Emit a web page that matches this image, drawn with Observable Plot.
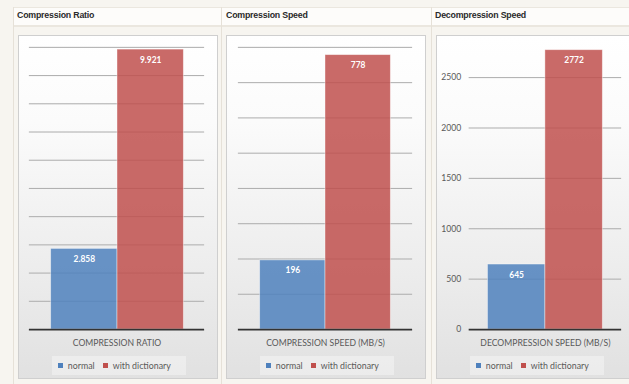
<!DOCTYPE html>
<html>
<head>
<meta charset="utf-8">
<script src="https://cdn.jsdelivr.net/npm/d3@7"></script>
<script src="https://cdn.jsdelivr.net/npm/@observablehq/plot@0.6"></script>
<style>
  html, body { margin: 0; padding: 0; }
  body { width: 629px; height: 384px; overflow: hidden; background: #f7f5f0; position: relative; font-family: Lato, "Liberation Sans", sans-serif; }
  .hdrband { position: absolute; left: 13px; top: 7px; width: 640px; height: 17px; background: #fdfcfa; border-top: 1px solid #ebe7df; border-bottom: 2px solid #ebe7df; }
  .sep { position: absolute; top: 7px; width: 1px; height: 384px; background: #e6e1d8; }
  .title { position: absolute; top: 10px; line-height: 12px; font: bold 8.8px "Liberation Sans", Arial, sans-serif; color: #2a2a2a; white-space: nowrap; letter-spacing: -0.2px; }
  .box { position: absolute; top: 35px; width: 200px; height: 344px; box-sizing: border-box; border: 1px solid #cfcfcf;
         background: linear-gradient(to bottom, #ffffff 0%, #fbfbfb 25%, #ececec 70%, #e1e1e1 100%); }
  .box .chart { position: absolute; left: -1px; top: -1px; }
  .leg { position: absolute; top: 320px; left: 0; width: 200px; display: flex; justify-content: center; }
  .leg > div { background: rgba(255,255,255,0.35); padding: 4px 6px; min-height: 0 !important; margin: 0 !important; }
</style>
</head>
<body>
<div class="hdrband"></div>
<div class="sep" style="left:13px"></div>
<div class="sep" style="left:221px"></div>
<div class="sep" style="left:431px"></div>
<script>
// ---- data ----
const titles = ["Compression Ratio", "Compression Speed", "Decompression Speed"];
const categories = ["COMPRESSION RATIO", "COMPRESSION SPEED (MB/S)", "DECOMPRESSION SPEED (MB/S)"];
const series = ["normal", "with dictionary"];
const normalValues = [2.858, 196, 645];
const dictionaryValues = [9.921, 778, 2772];
const normalLabels = ["2.858", "196", "645"];
const dictionaryLabels = ["9.921", "778", "2772"];
const ratioTicks = [0, 1, 2, 3, 4, 5, 6, 7, 8, 9, 10];
const compTicks = [0, 100, 200, 300, 400, 500, 600, 700, 800];
const decompTicks = [0, 500, 1000, 1500, 2000, 2500];
const tickSets = [ratioTicks, compTicks, decompTicks];
const yMax = [10, 800, 2800];
const colors = ["#4F81BD", "#C0504D"];

// ---- layout ----
const boxLeft = [18, 226, 436];
const titleLeft = [17, 226, 435];
const mLeft = [11, 12, 33];
const mRight = [12, 12, 13];
const showY = [false, false, true];

categories.forEach((cat, i) => {
  const t = document.createElement("div");
  t.className = "title";
  t.style.left = titleLeft[i] + "px";
  t.textContent = titles[i];
  document.body.appendChild(t);

  const box = document.createElement("div");
  box.className = "box";
  box.style.left = boxLeft[i] + "px";
  document.body.appendChild(box);

  const data = [
    {category: cat, series: series[0], value: normalValues[i], label: normalLabels[i]},
    {category: cat, series: series[1], value: dictionaryValues[i], label: dictionaryLabels[i]}
  ];
  const ticks = tickSets[i];

  const chart = Plot.plot({
    width: 200,
    height: 317,
    marginTop: 12,
    marginBottom: 20,
    marginLeft: mLeft[i],
    marginRight: mRight[i],
    style: {background: "transparent", fontFamily: "Lato, sans-serif", fontSize: "8.7px", color: "#595959", overflow: "visible"},
    facet: {data, x: "category"},
    fx: {domain: [cat], padding: 0, axis: "bottom", tickSize: 0, tickPadding: 10, label: null},
    x: {domain: series, paddingInner: 0, paddingOuter: 0.32, axis: null},
    y: {domain: [0, yMax[i]], ticks: ticks, tickFormat: d => String(d), axis: showY[i] ? "left" : null, tickSize: 0, tickPadding: 8, label: null},
    color: {domain: series, range: colors},
    marks: [
      Plot.ruleY(ticks.filter(d => d > 0), {stroke: "#ababab", strokeWidth: 1}),
      Plot.barY(data, {x: "series", y: "value", fill: "series", fillOpacity: 0.85, stroke: "#ffffff", strokeOpacity: 0.5, strokeWidth: 0.8}),
      Plot.ruleY([0], {stroke: "#333333", strokeWidth: 1.8}),
      Plot.text(data, {x: "series", y: "value", text: "label", dy: 10.5, fill: "white", fontWeight: "bold", fontSize: 8.5})
    ]
  });
  chart.classList.add("chart");
  box.appendChild(chart);

  const legWrap = document.createElement("div");
  legWrap.className = "leg";
  const leg = Plot.legend({
    color: {domain: series, range: colors},
    swatchSize: 5,
    style: {fontFamily: "Lato, sans-serif", fontSize: "8.8px", color: "#595959", margin: "0", minHeight: "0"}
  });
  leg.style.minHeight = "0";
  leg.style.margin = "0";
  legWrap.appendChild(leg);
  box.appendChild(legWrap);
});
</script>
</body>
</html>
